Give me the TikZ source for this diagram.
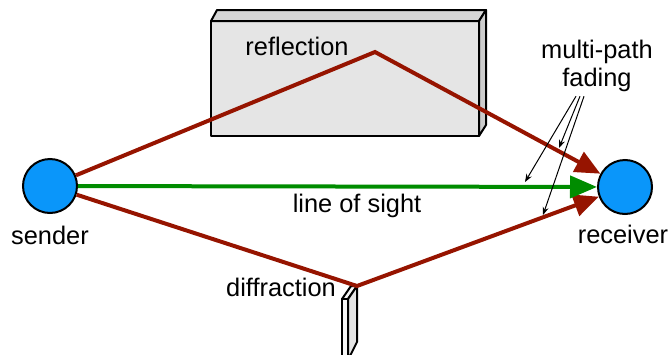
\documentclass[tikz,border=0pt]{standalone}
\usepackage{fontspec}
\setmainfont{Liberation Sans}
\usetikzlibrary{arrows.meta}

\definecolor{raycolor}{RGB}{150,20,0}
\definecolor{sightcolor}{RGB}{0,140,0}
\definecolor{stationcolor}{RGB}{10,150,250}

\tikzset{
    station/.style={circle, draw, line width=1pt, fill=stationcolor, minimum size=27pt, inner sep=0pt},
    ray/.style={raycolor, line width=2pt, -{Triangle[length=12.5pt,width=11pt]}},
    sight/.style={sightcolor, line width=2pt, -{Triangle[length=13.5pt,width=11pt]}},
    pointer/.style={black, line width=0.5pt, -{Stealth[length=4pt,width=3pt]}},
    label/.style={font=\fontsize{12.7}{14}\selectfont, inner sep=0pt},
    face/.style={draw, line width=1pt, line join=round}
}

\begin{document}
\begin{tikzpicture}[x=0.5pt, y=-0.5pt]
    \useasboundingbox (0,0) rectangle (670,354);

    % Wall
    \fill[black!10] (211,21) rectangle (479,136);
    \draw[face, fill=black!16] (211,21) -- (217,10) -- (486,10) -- (479,21) -- cycle;
    \draw[face, fill=black!20] (479,21) -- (486,10) -- (486,125) -- (479,136) -- cycle;
    \draw[face] (211,21) rectangle (479,136);

    % Edge
    \begin{scope}
        \clip (0,0) rectangle (670,354);
        \draw[face, fill=black!4] (342,299) -- (351,286) -- (357,286) -- (348,299) -- cycle;
        \draw[face, fill=black!10] (348,299) -- (357,286) -- (357,342) -- (348,360) -- cycle;
        \draw[face, fill=black!3] (342,299) rectangle (348,360);
    \end{scope}

    % Sender and receiver
    \node[station] (sender) at (50,186) {};
    \node[station] (receiver) at (625,187) {};
    \coordinate (refl) at (375,52);
    \coordinate (diffr) at (357,286);

    % Paths
    \draw[ray] (sender) -- (refl) -- (receiver);
    \draw[ray] (sender) -- (diffr) -- (receiver);
    \draw[sight] (sender) -- (receiver);

    % Labels
    \node[label, anchor=base] (senderlabel) at (50,244) {sender};
    \node[label, anchor=base] (receiverlabel) at (623,243) {receiver};
    \node[label, anchor=base] (refllabel) at (297,55) {reflection};
    \node[label, anchor=base] (sightlabel) at (357,212) {line of sight};
    \node[label, anchor=base] (diffrlabel) at (281,296) {diffraction};
    \node[label, align=center] (fadinglabel) at (597,66) {multi-path\\fading};

    % Multi-path fading
    \coordinate (fadeup) at (559,148);
    \coordinate (fadesight) at (525,182);
    \coordinate (fadelow) at (543,215);
    \draw[pointer] ([xshift=-10.5pt,yshift=-2pt]fadinglabel.south) -- (fadesight);
    \draw[pointer] ([xshift=-8.5pt,yshift=-2pt]fadinglabel.south) -- (fadeup);
    \draw[pointer] ([xshift=-6.5pt,yshift=-2pt]fadinglabel.south) -- (fadelow);
\end{tikzpicture}
\end{document}
